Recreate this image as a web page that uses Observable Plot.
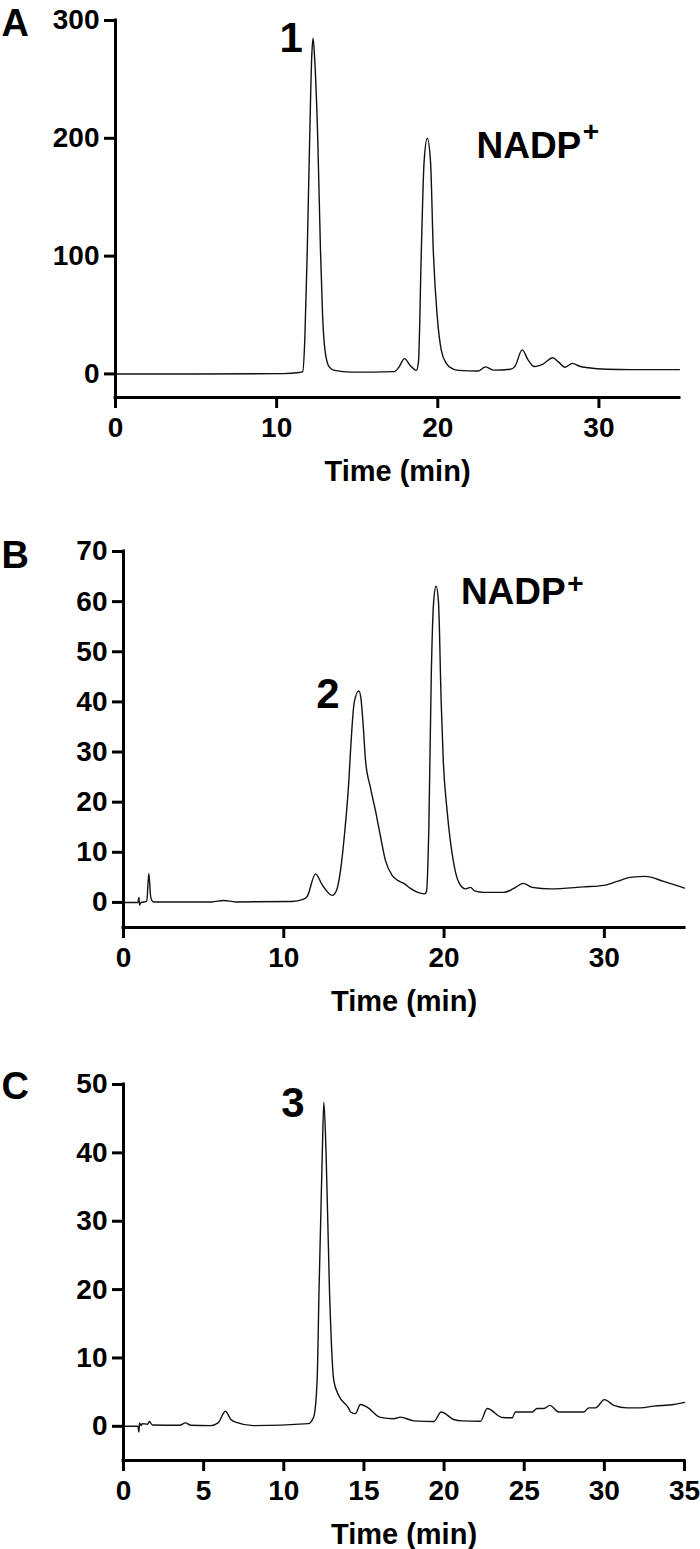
<!DOCTYPE html>
<html>
<head>
<meta charset="utf-8">
<script src="https://cdn.jsdelivr.net/npm/d3@7"></script>
<script src="https://cdn.jsdelivr.net/npm/@observablehq/plot@0.6"></script>
<style>
  html, body { margin: 0; padding: 0; background: #fff; }
  #chart { width: 700px; }
  #chart svg { display: block; }
  #chart svg text { font-weight: bold !important; }
  #chart svg g[aria-label="x-axis tick"] path,
  #chart svg g[aria-label="y-axis tick"] path { stroke-width: 3px !important; stroke: #000 !important; }
</style>
</head>
<body>
<div id="chart"></div>
<script>
// ---------- Panel A ----------
const timeA = [0, 5, 10.4, 11.4, 11.62, 11.75, 11.9, 12.05, 12.18, 12.26, 12.35, 12.55, 12.72, 12.85, 13.0, 13.26, 13.6, 14.6,
  17.3, 17.6, 17.93, 18.3, 18.67, 18.8, 18.98, 19.15, 19.35, 19.55, 19.72, 19.97, 20.22, 20.53, 20.9, 21.3,
  22.5, 22.96, 23.5, 24.5, 24.77, 25.24, 25.6, 26.0, 26.55, 27.13, 27.5, 27.9, 28.36, 28.8, 29.35, 30.5, 32, 35];
const valueA = [0, 0, 0.3, 1.2, 2, 30, 105, 200, 270, 285, 270, 200, 105, 50, 20, 6, 3, 1.5,
  2, 6, 13, 7, 3, 10, 105, 180, 200, 180, 105, 48, 20, 9, 4.5, 3,
  2.5, 6, 3.2, 4, 6, 20.4, 12, 6.3, 8.6, 13.7, 10, 5.7, 9, 6.5, 5.2, 4, 3.7, 3.7];

// ---------- Panel B ----------
const timeB = [0, 0.9, 0.96, 1.0, 1.1, 1.45, 1.58, 1.7, 1.87, 5.5, 6.24, 7, 10.5, 11.2, 11.46, 11.98, 12.4, 13.02, 13.3,
  13.54, 13.8, 14.06, 14.16, 14.4, 14.68, 14.8, 14.95, 15.1, 15.4, 15.72, 16.03, 16.34, 16.76, 17.1, 17.49, 17.9, 18.32, 18.78,
  18.9, 19.05, 19.2, 19.35, 19.5, 19.65, 19.82, 19.95, 20.19, 20.57, 20.92, 21.34, 21.65, 21.9, 22.48, 23.73, 24.35,
  24.94, 25.5, 26.64, 28.7, 29.96, 30.8, 31.63, 32.56, 33.7, 35];
const valueB = [0, 0, 1, -0.5, 0, 0.2, 5.8, 1, 0.1, 0.1, 0.4, 0.1, 0.2, 0.6, 1.2, 5.7, 3.5, 1.4, 2.5,
  6.4, 14, 24.3, 30, 40, 42.2, 41, 35.5, 28.3, 23, 18.3, 13.2, 8.4, 5.4, 4.4, 3.8, 2.8, 2.05, 1.7,
  2.2, 15, 45, 60, 63.1, 60, 40, 28.3, 18.3, 8.4, 4, 2.7, 3, 2.3, 2, 2, 2.8,
  3.8, 3, 2.7, 3.1, 3.4, 4.2, 5.0, 5.2, 4.2, 2.85];

// ---------- Panel C ----------
const timeC = [0, 0.9, 0.96, 1.0, 1.1, 1.16, 1.5, 1.62, 1.8, 3.5, 3.87, 4.2, 5.43, 5.9, 6.36, 6.7, 6.99, 8.1, 11.54,
  11.87, 12.08, 12.2, 12.4, 12.5, 12.64, 12.85, 13.12, 13.43, 14.06, 14.17, 14.47, 14.78, 15.2, 16.03, 16.86, 17.28,
  18.11, 19.36, 19.82, 20.6, 21.13, 22.27, 22.69, 23.63, 24.25, 24.45, 25.5, 25.8, 26.22, 26.6, 27.16, 28.72, 29.03,
  29.45, 30.0, 30.59, 31.42, 32.25, 33.08, 34.33, 35];
const valueC = [0, 0, -0.85, 0.5, 0.1, 0.4, 0.3, 0.7, 0.2, 0.15, 0.5, 0.15, 0.1, 0.5, 2.2, 1.0, 0.6, 0.1, 0.4,
  1.4, 6.7, 20, 39.8, 47.4, 39.8, 20, 6.7, 4.5, 2.6, 2.1, 1.85, 3.2, 2.8, 1.3, 1.1, 1.35,
  0.8, 0.7, 2.1, 1.0, 0.8, 0.75, 2.6, 1.3, 1.25, 2.1, 2.1, 2.6, 2.6, 3.06, 2.1, 2.1, 2.7,
  2.7, 3.9, 3.06, 2.7, 2.7, 2.96, 3.2, 3.5];

// ---------- axes / labels ----------
const panelLetters = ["A", "B", "C"];
const yTicksA = [0, 100, 200, 300];
const yTicksB = [0, 10, 20, 30, 40, 50, 60, 70];
const yTicksC = [0, 10, 20, 30, 40, 50];
const xTicksAB = [0, 10, 20, 30];
const xTicksC = [0, 5, 10, 15, 20, 25, 30, 35];
const yDomainA = [-20, 300];
const yDomainB = [-5, 70];
const yDomainC = [-5, 50];
const xDomain = [0, 35];
const xTitle = "Time (min)";

// peak annotations (anchored in data units)
const peakLabelsA = [{t: 10.9, v: 273, text: "1"}];
const peakLabelsB = [{t: 12.76, v: 38.8, text: "2"}];
const peakLabelsC = [{t: 10.57, v: 45.3, text: "3"}];
const nadpA = [{t: 22.4, v: 183.7, text: "NADP"}];
const nadpPlusA = [{t: 29.5, v: 205, text: "+"}];
const nadpB = [{t: 21.05, v: 59.6, text: "NADP"}];
const nadpPlusB = [{t: 28.2, v: 63.5, text: "+"}];

const FONT = "'Liberation Sans', Arial, Helvetica, sans-serif";
const toRows = (ts, vs) => ts.map((t, i) => ({t, v: vs[i]}));

function panel({rows, height, marginTop, marginBottom, marginLeft, marginRight, yDomain, yTicks, xTicks,
                letter, letterDy, peaks, nadp, nadpPlus}) {
  const marks = [
    Plot.ruleX([xDomain[0]], {y1: yDomain[0], y2: yDomain[1], stroke: "black", strokeWidth: 3, strokeLinecap: "square"}),
    Plot.ruleY([yDomain[0]], {x1: xDomain[0], x2: xDomain[1], stroke: "black", strokeWidth: 3, strokeLinecap: "square"}),
    Plot.axisY({ticks: yTicks, tickSize: 11, tickPadding: 5, strokeWidth: 3, fontSize: 28, fontWeight: "bold", label: null, fill: "black", stroke: "black"}),
    Plot.axisX({ticks: xTicks, tickSize: 11, tickPadding: 9, strokeWidth: 3, fontSize: 28, fontWeight: "bold", label: null, fill: "black", stroke: "black"}),
    Plot.line(rows, {x: "t", y: "v", stroke: "#111", strokeWidth: 1.4, curve: "monotone-x"}),
    Plot.text([xTitle], {frameAnchor: "bottom", dy: 83, lineAnchor: "bottom", textAnchor: "middle", fontSize: 29, fontWeight: "bold", fill: "black"}),
    Plot.text([letter], {frameAnchor: "top-left", dx: -marginLeft + 1, dy: letterDy, lineAnchor: "bottom", textAnchor: "start", fontSize: 38, fontWeight: "bold", fill: "black"}),
    Plot.text(peaks, {x: "t", y: "v", text: "text", lineAnchor: "bottom", textAnchor: "middle", fontSize: 42, fontWeight: "bold", fill: "black"})
  ];
  if (nadp) {
    marks.push(Plot.text(nadp, {x: "t", y: "v", text: "text", lineAnchor: "bottom", textAnchor: "start", fontSize: 37, fontWeight: "bold", fill: "black"}));
    marks.push(Plot.text(nadpPlus, {x: "t", y: "v", text: "text", lineAnchor: "middle", textAnchor: "middle", fontSize: 28, fontWeight: "bold", fill: "black"}));
  }
  return Plot.plot({
    width: 700,
    height, marginTop, marginBottom, marginLeft, marginRight,
    style: {fontFamily: FONT, fontWeight: "bold", color: "black", background: "white", overflow: "visible"},
    x: {domain: xDomain},
    y: {domain: yDomain},
    marks
  });
}

const chart = document.getElementById("chart");
chart.append(panel({
  rows: toRows(timeA, valueA), height: 490, marginTop: 20, marginBottom: 93, marginLeft: 115, marginRight: 21,
  yDomain: yDomainA, yTicks: yTicksA, xTicks: xTicksAB, letter: panelLetters[0], letterDy: 15,
  peaks: peakLabelsA, nadp: nadpA, nadpPlus: nadpPlusA
}));
chart.append(panel({
  rows: toRows(timeB, valueB), height: 540, marginTop: 61, marginBottom: 103, marginLeft: 123, marginRight: 16,
  yDomain: yDomainB, yTicks: yTicksB, xTicks: xTicksAB, letter: panelLetters[1], letterDy: 16,
  peaks: peakLabelsB, nadp: nadpB, nadpPlus: nadpPlusB
}));
chart.append(panel({
  rows: toRows(timeC, valueC), height: 519, marginTop: 54, marginBottom: 89, marginLeft: 123, marginRight: 16,
  yDomain: yDomainC, yTicks: yTicksC, xTicks: xTicksC, letter: panelLetters[2], letterDy: 14,
  peaks: peakLabelsC
}));
</script>
</body>
</html>
